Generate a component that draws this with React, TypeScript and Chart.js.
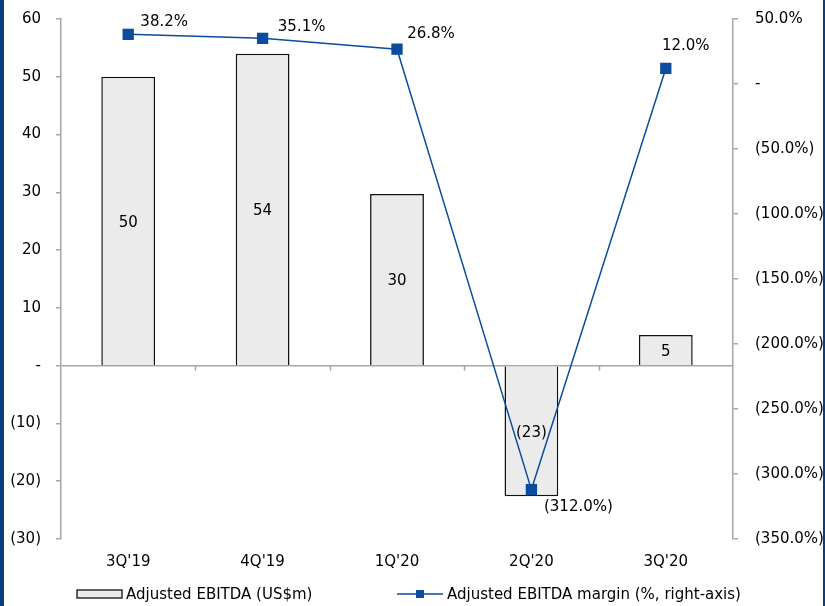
import React, { useEffect, useRef } from "react";
import { Chart, registerables } from "chart.js";

Chart.register(...registerables);

const categories = ["3Q'19", "4Q'19", "1Q'20", "2Q'20", "3Q'20"];
const ebitda = [50, 54, 29.7, -22.6, 5.3];
const margin = [38.2, 35.1, 26.8, -312.0, 12.0];
const seriesNames = ["Adjusted EBITDA (US$m)", "Adjusted EBITDA margin (%, right-axis)"];

const BLUE = "#0b4c9e";
const FRAME = "#0b3d7e";
const GRAY = "#a6a6a6";
const BAR_FILL = "#ebebeb";
const BAR_EDGE = "#111111";
const FONT = "DejaVu Sans";
const FSIZE = 15;

// label offsets (style) for margin labels relative to each point
const marginLabelOffsets: [number, number][] = [
  [36, -12],
  [39, -11],
  [34, -15],
  [47, 18],
  [20, -22],
];

const fmtLeft = (v: number) => (v === 0 ? "-" : v < 0 ? `(${Math.abs(v)})` : `${v}`);
const fmtRight = (v: number) =>
  v === 0 ? "-" : v < 0 ? `(${Math.abs(v).toFixed(1)}%)` : `${v.toFixed(1)}%`;
const fmtBar = (v: number) => {
  const r = Math.round(Math.abs(v));
  return v < 0 ? `(${r})` : `${r}`;
};

const decorPlugin = {
  id: "decor",
  beforeDatasetsDraw(chart: any) {
    const { ctx, chartArea } = chart;
    const xs = chart.scales.x;
    const ys = chart.scales.y;
    const y0 = ys.getPixelForValue(0);
    const n = categories.length;
    const step = (chartArea.right - chartArea.left) / n;
    ctx.save();
    ctx.strokeStyle = GRAY;
    ctx.lineWidth = 1.5;
    for (let i = 1; i < n; i++) {
      const x = Math.round(xs.getPixelForValue(i) - step / 2) + 0.5;
      ctx.beginPath();
      ctx.moveTo(x, y0);
      ctx.lineTo(x, y0 + 5);
      ctx.stroke();
    }
    ctx.restore();
  },
  afterDraw(chart: any) {
    const { ctx, width, height } = chart;
    ctx.save();
    // frame lines
    ctx.fillStyle = FRAME;
    ctx.fillRect(0, 0, 4, height);
    ctx.fillRect(width - 2, 0, 2, height);

    ctx.font = `${FSIZE}px "${FONT}"`;
    ctx.fillStyle = "#000";
    ctx.textAlign = "center";
    ctx.textBaseline = "middle";

    // bar labels
    const barMeta = chart.getDatasetMeta(1);
    barMeta.data.forEach((el: any, i: number) => {
      const cy = (el.y + el.base) / 2;
      ctx.fillText(fmtBar(ebitda[i]), el.x, cy + 2);
    });

    // margin labels
    const lineMeta = chart.getDatasetMeta(0);
    lineMeta.data.forEach((el: any, i: number) => {
      const [dx, dy] = marginLabelOffsets[i];
      ctx.fillText(fmtRight(margin[i]), el.x + dx, el.y + dy);
    });

    // legend
    const ly = 594;
    ctx.fillStyle = BAR_FILL;
    ctx.strokeStyle = BAR_EDGE;
    ctx.lineWidth = 1.3;
    ctx.fillRect(77, ly - 4, 45, 8);
    ctx.strokeRect(77, ly - 4, 45, 8);
    ctx.fillStyle = "#000";
    ctx.textAlign = "left";
    ctx.fillText(seriesNames[0], 126, ly + 1);

    ctx.strokeStyle = BLUE;
    ctx.lineWidth = 1.5;
    ctx.beginPath();
    ctx.moveTo(397, ly);
    ctx.lineTo(443, ly);
    ctx.stroke();
    ctx.fillStyle = BLUE;
    ctx.fillRect(416, ly - 4, 8, 8);
    ctx.fillStyle = "#000";
    ctx.fillText(seriesNames[1], 447, ly + 1);
    ctx.restore();
  },
};

export default function App() {
  const ref = useRef<HTMLCanvasElement | null>(null);
  useEffect(() => {
    if (!ref.current) return;
    Chart.defaults.font.family = FONT;
    Chart.defaults.font.size = FSIZE;
    Chart.defaults.color = "#000";
    const chart = new Chart(ref.current, {
      type: "bar",
      data: {
        labels: categories,
        datasets: [
          {
            type: "line",
            label: seriesNames[1],
            data: margin,
            yAxisID: "y1",
            borderColor: BLUE,
            backgroundColor: BLUE,
            borderWidth: 1.5,
            pointStyle: "rect",
            pointRadius: 8,
            pointBorderWidth: 0,
            tension: 0,
            order: 0,
          } as any,
          {
            type: "bar",
            label: seriesNames[0],
            data: ebitda,
            yAxisID: "y",
            backgroundColor: BAR_FILL,
            borderColor: BAR_EDGE,
            borderWidth: 1.5,
            barPercentage: 0.4,
            categoryPercentage: 1,
            order: 1,
          } as any,
        ],
      },
      options: {
        responsive: false,
        animation: false,
        layout: { padding: { top: 19, left: 0, right: 0, bottom: 0 } },
        plugins: { legend: { display: false }, tooltip: { enabled: false } },
        scales: {
          x: {
            grid: { display: false, drawTicks: false },
            border: { display: false },
            ticks: { padding: 14, color: "#000", font: { size: FSIZE, family: FONT } },
            afterFit: (s: any) => {
              s.height = 67;
              s.paddingLeft = 0;
              s.paddingRight = 0;
              s.paddingTop = 0;
              s.paddingBottom = 0;
            },
          },
          y: {
            position: "left",
            min: -30,
            max: 60,
            ticks: {
              stepSize: 10,
              padding: 15,
              color: "#000",
              font: { size: FSIZE, family: FONT },
              callback: (v: any) => fmtLeft(Number(v)),
            },
            grid: {
              color: (c: any) => (c.tick && c.tick.value === 0 ? GRAY : "rgba(0,0,0,0)"),
              tickColor: GRAY,
              tickLength: 5,
              lineWidth: 1.5,
            },
            border: { color: GRAY, width: 1.5 },
            afterFit: (s: any) => {
              s.width = 61;
              s.paddingTop = 0;
              s.paddingBottom = 0;
            },
          },
          y1: {
            position: "right",
            min: -350,
            max: 50,
            ticks: {
              stepSize: 50,
              padding: 17,
              color: "#000",
              font: { size: FSIZE, family: FONT },
              callback: (v: any) => fmtRight(Number(v)),
            },
            grid: { drawOnChartArea: false, tickLength: 5, color: GRAY, lineWidth: 1.5 },
            border: { color: GRAY, width: 1.5 },
            afterFit: (s: any) => {
              s.width = 92;
              s.paddingTop = 0;
              s.paddingBottom = 0;
            },
          },
        },
      } as any,
      plugins: [decorPlugin],
    });
    return () => chart.destroy();
  }, []);
  return (
    <div style={{ position: "absolute", left: 0, top: 0, width: 825, height: 606, background: "#fff" }}>
      <canvas ref={ref} width={825} height={606} style={{ display: "block" }} />
    </div>
  );
}
